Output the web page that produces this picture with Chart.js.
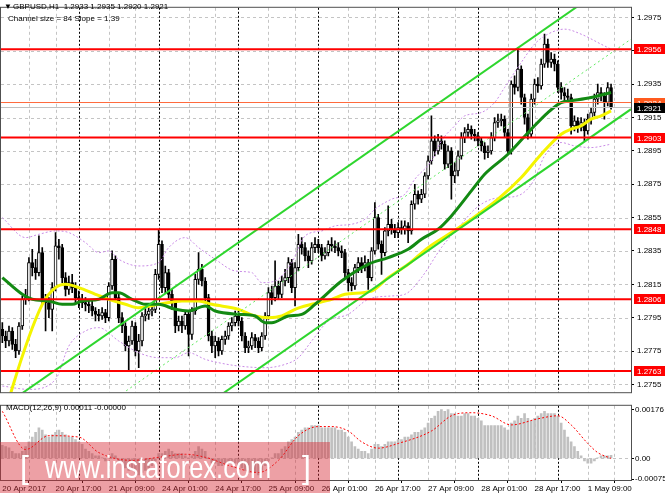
<!DOCTYPE html>
<html>
<head>
<meta charset="utf-8">
<script src="https://cdn.jsdelivr.net/npm/chart.js@4.4.1/dist/chart.umd.min.js"></script>
<style>
    body { margin: 0; background: #fff; width: 665px; height: 499px; overflow: hidden; position: relative;
           font-family: "Liberation Sans", Arial, sans-serif; }
    #pricePane { position: absolute; left: 0; top: 0; }
    #macdPane { position: absolute; left: 0; top: 400px; }
    .txt { position: absolute; font-size: 8px; line-height: 9px; color: #000; white-space: pre; }
    #band { position: absolute; left: 0; top: 442px; width: 330px; height: 51px; background: rgba(215, 45, 55, 0.45); }
    .wm { position: absolute; color: #fff; font-size: 32px; line-height: 32px; white-space: pre; top: 9px; }
</style>
</head>
<body>
<canvas id="pricePane" width="665" height="400"></canvas>
<canvas id="macdPane" width="665" height="99"></canvas>
<div class="txt" style="left:4px;top:2px">▼</div>
<div class="txt" style="left:13px;top:2px">GBPUSD,H1  1.2933 1.2935 1.2920 1.2921</div>
<div class="txt" style="left:8px;top:14px">Channel size = 84 Slope = 1.39</div>
<div class="txt" style="left:6px;top:403px">MACD(12,26,9) 0.00011 -0.00000</div>
<div id="band">
    <div class="wm" style="left:20px">[</div>
    <div class="wm" style="left:45px;transform:scaleX(0.795);transform-origin:0 0">www.instaforex.com</div>
    <div class="wm" style="left:302px">]</div>
</div>
<script>
// GBPUSD H1, one entry per bar (bar 1 = 20 Apr 01:00)
const opens = [
    1.2788,1.2784,1.2781,1.2787,1.2779,1.2775,1.2790,1.2806,1.2807,1.2828,1.2825,1.2822,
    1.2834,1.2806,1.2804,1.2800,1.2813,1.2838,1.2837,1.2819,1.2812,1.2816,1.2813,1.2807,
    1.2806,1.2804,1.2803,1.2802,1.2799,1.2797,1.2796,1.2798,1.2795,1.2814,1.2830,1.2807,
    1.2795,1.2790,1.2778,1.2781,1.2790,1.2775,1.2781,1.2796,1.2797,1.2799,1.2800,1.2821,
    1.2839,1.2813,1.2822,1.2809,1.2804,1.2790,1.2793,1.2790,1.2797,1.2785,1.2799,1.2818,
    1.2824,1.2817,1.2807,1.2784,1.2778,1.2781,1.2775,1.2782,1.2784,1.2790,1.2792,1.2796,
    1.2793,1.2784,1.2777,1.2778,1.2783,1.2781,1.2777,1.2784,1.2796,1.2810,1.2807,1.2814,
    1.2809,1.2817,1.2819,1.2828,1.2813,1.2825,1.2839,1.2837,1.2832,1.2829,1.2837,1.2839,
    1.2837,1.2832,1.2834,1.2839,1.2838,1.2837,1.2835,1.2834,1.2822,1.2816,1.2814,1.2825,
    1.2828,1.2825,1.2828,1.2819,1.2835,1.2855,1.2839,1.2834,1.2847,1.2851,1.2848,1.2846,
    1.2849,1.2848,1.2850,1.2847,1.2863,1.2869,1.2866,1.2869,1.2880,1.2889,1.2901,1.2895,
    1.2901,1.2899,1.2887,1.2895,1.2880,1.2883,1.2892,1.2903,1.2906,1.2908,1.2905,1.2904,
    1.2901,1.2898,1.2894,1.2895,1.2903,1.2912,1.2913,1.2914,1.2906,1.2895,1.2935,1.2933,
    1.2944,1.2927,1.2915,1.2905,1.2926,1.2935,1.2934,1.2947,1.2959,1.2948,1.2950,1.2947,
    1.2933,1.2930,1.2928,1.2927,1.2910,1.2913,1.2909,1.2912,1.2907,1.2914,1.2918,1.2926,
    1.2930,1.2928,1.2924,1.2933
];
const highs = [
    1.2792,1.2787,1.2790,1.2789,1.2782,1.2792,1.2808,1.2812,1.2831,1.2836,1.2830,1.2844,
    1.2837,1.2809,1.2807,1.2816,1.2846,1.2842,1.2839,1.2822,1.2820,1.2821,1.2816,1.2811,
    1.2809,1.2807,1.2806,1.2805,1.2801,1.2800,1.2801,1.2800,1.2816,1.2835,1.2832,1.2809,
    1.2798,1.2792,1.2784,1.2793,1.2792,1.2785,1.2798,1.2801,1.2802,1.2803,1.2824,1.2848,
    1.2841,1.2826,1.2824,1.2812,1.2806,1.2796,1.2796,1.2799,1.2799,1.2801,1.2821,1.2834,
    1.2827,1.2819,1.2809,1.2787,1.2784,1.2783,1.2784,1.2787,1.2792,1.2795,1.2799,1.2799,
    1.2795,1.2786,1.2781,1.2786,1.2785,1.2783,1.2786,1.2798,1.2813,1.2814,1.2829,1.2817,
    1.2820,1.2824,1.2831,1.2830,1.2828,1.2845,1.2843,1.2840,1.2835,1.2840,1.2843,1.2842,
    1.2839,1.2837,1.2841,1.2843,1.2841,1.2840,1.2838,1.2836,1.2824,1.2819,1.2827,1.2831,
    1.2831,1.2832,1.2830,1.2837,1.2864,1.2857,1.2841,1.2849,1.2862,1.2854,1.2851,1.2852,
    1.2853,1.2853,1.2852,1.2865,1.2875,1.2871,1.2872,1.2882,1.2892,1.2916,1.2904,1.2905,
    1.2904,1.2901,1.2898,1.2897,1.2888,1.2895,1.2906,1.2909,1.2911,1.2910,1.2908,1.2906,
    1.2903,1.2900,1.2898,1.2906,1.2915,1.2917,1.2917,1.2916,1.2908,1.2937,1.2940,1.2957,
    1.2946,1.2929,1.2917,1.2929,1.2938,1.2939,1.2950,1.2965,1.2962,1.2954,1.2953,1.2949,
    1.2936,1.2933,1.2932,1.2929,1.2916,1.2915,1.2915,1.2914,1.2917,1.2921,1.2929,1.2935,
    1.2933,1.2930,1.2936,1.2935
];
const lows = [
    1.2780,1.2777,1.2778,1.2776,1.2771,1.2773,1.2788,1.2803,1.2805,1.2820,1.2818,1.2820,
    1.2803,1.2787,1.2795,1.2787,1.2811,1.2830,1.2816,1.2808,1.2809,1.2810,1.2804,1.2801,
    1.2801,1.2799,1.2798,1.2796,1.2793,1.2793,1.2794,1.2792,1.2793,1.2812,1.2805,1.2792,
    1.2786,1.2775,1.2763,1.2779,1.2772,1.2765,1.2778,1.2793,1.2794,1.2796,1.2798,1.2818,
    1.2810,1.2810,1.2806,1.2800,1.2786,1.2787,1.2786,1.2788,1.2772,1.2782,1.2797,1.2815,
    1.2814,1.2804,1.2781,1.2774,1.2771,1.2772,1.2773,1.2779,1.2782,1.2787,1.2790,1.2790,
    1.2781,1.2774,1.2774,1.2776,1.2777,1.2774,1.2775,1.2782,1.2794,1.2803,1.2805,1.2806,
    1.2807,1.2814,1.2816,1.2810,1.2802,1.2823,1.2833,1.2829,1.2825,1.2827,1.2834,1.2834,
    1.2829,1.2830,1.2832,1.2835,1.2834,1.2832,1.2831,1.2819,1.2811,1.2811,1.2812,1.2822,
    1.2822,1.2823,1.2812,1.2817,1.2833,1.2836,1.2821,1.2832,1.2844,1.2845,1.2843,1.2843,
    1.2845,1.2845,1.2840,1.2845,1.2860,1.2863,1.2864,1.2867,1.2878,1.2887,1.2892,1.2893,
    1.2896,1.2884,1.2885,1.2866,1.2876,1.2880,1.2890,1.2900,1.2903,1.2902,1.2901,1.2898,
    1.2895,1.2890,1.2891,1.2893,1.2901,1.2909,1.2910,1.2903,1.2893,1.2893,1.2929,1.2931,
    1.2923,1.2911,1.2902,1.2903,1.2923,1.2930,1.2932,1.2945,1.2945,1.2945,1.2943,1.2930,
    1.2926,1.2925,1.2924,1.2905,1.2907,1.2906,1.2907,1.2901,1.2905,1.2911,1.2916,1.2923,
    1.2925,1.2914,1.2922,1.2920
];
const closes = [
    1.2784,1.2781,1.2787,1.2779,1.2775,1.2790,1.2806,1.2807,1.2828,1.2825,1.2822,1.2834,
    1.2806,1.2804,1.2800,1.2813,1.2838,1.2837,1.2819,1.2812,1.2816,1.2813,1.2807,1.2806,
    1.2804,1.2803,1.2802,1.2799,1.2797,1.2796,1.2798,1.2795,1.2814,1.2830,1.2807,1.2795,
    1.2790,1.2778,1.2781,1.2790,1.2775,1.2781,1.2796,1.2797,1.2799,1.2800,1.2821,1.2839,
    1.2813,1.2822,1.2809,1.2804,1.2790,1.2793,1.2790,1.2797,1.2785,1.2799,1.2818,1.2824,
    1.2817,1.2807,1.2784,1.2778,1.2781,1.2775,1.2782,1.2784,1.2790,1.2792,1.2796,1.2793,
    1.2784,1.2777,1.2778,1.2783,1.2781,1.2777,1.2784,1.2796,1.2810,1.2807,1.2814,1.2809,
    1.2817,1.2819,1.2828,1.2813,1.2825,1.2839,1.2837,1.2832,1.2829,1.2837,1.2839,1.2837,
    1.2832,1.2834,1.2839,1.2838,1.2837,1.2835,1.2834,1.2822,1.2816,1.2814,1.2825,1.2828,
    1.2825,1.2828,1.2819,1.2835,1.2855,1.2839,1.2834,1.2847,1.2851,1.2848,1.2846,1.2849,
    1.2848,1.2850,1.2847,1.2863,1.2869,1.2866,1.2869,1.2880,1.2889,1.2901,1.2895,1.2901,
    1.2899,1.2887,1.2895,1.2880,1.2883,1.2892,1.2903,1.2906,1.2908,1.2905,1.2904,1.2901,
    1.2898,1.2894,1.2895,1.2903,1.2912,1.2913,1.2914,1.2906,1.2895,1.2935,1.2933,1.2944,
    1.2927,1.2915,1.2905,1.2926,1.2935,1.2934,1.2947,1.2959,1.2948,1.2950,1.2947,1.2933,
    1.2930,1.2928,1.2927,1.2910,1.2913,1.2909,1.2912,1.2907,1.2914,1.2918,1.2926,1.2930,
    1.2928,1.2924,1.2933,1.2921
];

// moving averages, read at a few bars
const yellowMaBars = [2, 4, 13, 17, 20, 24, 29, 33, 38, 42, 48, 55, 60, 64, 72, 77, 81, 85, 89, 94, 100, 104,
    112, 117, 123, 129, 136, 142, 150, 157, 163, 169, 172, 175, 178, 181, 184];
const yellowMaVals = [1.2738, 1.2753, 1.2803, 1.2813, 1.2815, 1.2813, 1.2809, 1.2806, 1.2803, 1.2801, 1.2803,
    1.2805, 1.2805, 1.2803, 1.2800, 1.2796, 1.2795, 1.2796, 1.2800, 1.2803, 1.2806, 1.2809, 1.2811, 1.2819,
    1.2827, 1.2837, 1.2846, 1.2854, 1.2866, 1.2879, 1.2893, 1.2905, 1.2908, 1.2910, 1.2914, 1.2916, 1.2919];
const greenMaBars = [1, 7, 10, 15, 19, 22, 25, 30, 34, 36, 40, 44, 48, 53, 57, 62, 65, 72, 77, 80, 82, 87, 91,
    95, 103, 111, 117, 123, 127, 132, 136, 142, 146, 153, 160, 165, 169, 172, 178, 184];
const greenMaVals = [1.2819, 1.2809, 1.2806, 1.2805, 1.2803, 1.2803, 1.2805, 1.2806, 1.2810, 1.2810, 1.2806,
    1.2803, 1.2803, 1.2800, 1.2799, 1.2802, 1.2799, 1.2797, 1.2796, 1.2792, 1.2792, 1.2796, 1.2797, 1.2803,
    1.2817, 1.2827, 1.2831, 1.2836, 1.2842, 1.2848, 1.2856, 1.2871, 1.2881, 1.2893, 1.2908, 1.2918, 1.2924,
    1.2925, 1.2927, 1.2930];

// envelope bands (violet dotted)
const upperBandBars = [1, 8, 12, 17, 21, 26, 30, 33, 36, 42, 48, 51, 56, 60, 65, 71, 76, 79, 83, 88, 92, 97,
    101, 106, 110, 113, 118, 122, 125, 130, 133, 137, 140, 145, 149, 152, 157, 161, 165, 170, 175, 181, 184];
const upperBandVals = [1.2855, 1.2843, 1.2845, 1.2847, 1.2846, 1.2840, 1.2834, 1.2835, 1.2830, 1.2826, 1.2828,
    1.2837, 1.2843, 1.2837, 1.2830, 1.2823, 1.2822, 1.2816, 1.2817, 1.2828, 1.2844, 1.2847, 1.2850, 1.2851,
    1.2854, 1.2860, 1.2866, 1.2869, 1.2878, 1.2889, 1.2901, 1.2910, 1.2916, 1.2918, 1.2924, 1.2933, 1.2948,
    1.2959, 1.2965, 1.2968, 1.2965, 1.2959, 1.2956];
const lowerBandBars = [1, 9, 17, 21, 26, 30, 36, 42, 48, 53, 57, 62, 66, 72, 80, 86, 90, 94, 99, 105, 111,
    118, 122, 127, 133, 139, 143, 148, 152, 157, 161, 164, 169, 173, 178, 184];
const lowerBandVals = [1.2754, 1.2752, 1.2758, 1.2778, 1.2787, 1.2789, 1.2781, 1.2774, 1.2771, 1.2771, 1.2774,
    1.2770, 1.2768, 1.2766, 1.2765, 1.2767, 1.2771, 1.2781, 1.2793, 1.2797, 1.2806, 1.2808, 1.2809, 1.2819,
    1.2837, 1.2851, 1.2860, 1.2866, 1.2867, 1.2869, 1.2878, 1.2892, 1.2900, 1.2898, 1.2897, 1.2899];

// equidistant channel: size 84 pips, slope 1.39
const channelBars = [0, 190];
const channelUpper = [1.2740, 1.3004];
const channelMiddle = [1.2698, 1.2962];
const channelLower = [1.2656, 1.2920];

const levelPrices = [1.2956, 1.2903, 1.2848, 1.2806, 1.2763];
const askPrice = 1.2924;
const bidPrice = 1.2921;
const priceTicks = [1.2755, 1.2775, 1.2795, 1.2815, 1.2835, 1.2855, 1.2875, 1.2895, 1.2915, 1.2935, 1.2955, 1.2975];

// MACD(12,26,9)
const macdMain = [
    0.00047,0.00043,0.00038,0.00026,0.00017,0.00017,0.00026,0.00043,0.0006,0.00077,0.00094,0.0011,
    0.00102,0.00085,0.00077,0.00085,0.00094,0.00102,0.00094,0.00085,0.00077,0.00077,0.00068,0.0006,
    0.00051,0.00034,0.00026,0.00017,0.00009,0.00009,0.00002,-0.00009,0.00009,0.00017,0.00009,-0.00009,
    -0.00017,-0.00034,-0.00043,-0.00043,-0.00051,-0.0006,-0.00051,-0.00043,-0.00034,-0.00026,-0.00009,0.00017,
    0.00017,0.00026,0.00034,0.00026,0.00017,0.00017,0.00017,0.00009,0.00002,0.00009,0.00026,0.00043,
    0.00034,0.00026,0.00002,-0.00017,-0.00017,-0.00026,-0.00026,-0.00017,-0.00017,-0.00017,-0.00017,-0.00026,
    -0.00034,-0.00043,-0.00051,-0.00051,-0.00051,-0.0006,-0.00043,-0.00026,-0.00009,0.00002,0.00017,0.00017,
    0.00034,0.00043,0.0006,0.00068,0.00077,0.00094,0.00102,0.0011,0.0011,0.00119,0.00119,0.00119,
    0.0011,0.0011,0.0011,0.0011,0.0011,0.00102,0.00102,0.00094,0.00077,0.0006,0.00043,0.00034,
    0.00026,0.00026,0.00017,0.00034,0.00051,0.00051,0.00043,0.00051,0.0006,0.0006,0.0006,0.00068,
    0.00068,0.00077,0.00077,0.00085,0.00094,0.00094,0.00102,0.0011,0.00128,0.00145,0.00153,0.0017,
    0.00176,0.0017,0.00176,0.00162,0.00162,0.00153,0.00153,0.00162,0.00162,0.00153,0.00153,0.00145,
    0.00136,0.00119,0.00119,0.00119,0.00119,0.00119,0.00119,0.0011,0.00102,0.00128,0.00136,0.00153,
    0.00145,0.00162,0.00145,0.00136,0.00145,0.00153,0.00162,0.0017,0.00162,0.00162,0.00162,0.00153,
    0.00128,0.00102,0.00077,0.0006,0.00043,0.00026,0.00009,-0.00009,-0.00017,-0.00017,-0.00009,0.00002,
    0.00009,0.00009,0.00009,0.00011
];
const signalBars = [1, 8, 15, 24, 30, 40, 48, 56, 62, 70, 78, 84, 90, 96, 100, 105, 109, 114, 120, 130, 136,
    142, 148, 154, 162, 168, 172, 177, 180, 184];
const signalVals = [0.0017, 0.00032, 0.00082, 0.00077, 0.00021, -0.00007, 0.00004, 0.00015, 0.00004, -0.00029,
    -0.00051, -0.00007, 0.00082, 0.00115, 0.00115, 0.00099, 0.0006, 0.00037, 0.00054, 0.00099, 0.00154, 0.00165,
    0.00154, 0.00121, 0.00143, 0.00154, 0.00121, 0.00054, 0.00021, 0.0];
const macdTicks = [-0.00075, 0, 0.00176];

const timeLabelBars = [1, 17, 33, 49, 65, 81, 97, 113, 129, 145, 161, 177];
const timeLabels = ['20 Apr 2017', '20 Apr 17:00', '21 Apr 09:00', '24 Apr 01:00', '24 Apr 17:00', '25 Apr 09:00',
    '26 Apr 01:00', '26 Apr 17:00', '27 Apr 09:00', '28 Apr 01:00', '28 Apr 17:00', '1 May 09:00'];
const gridBars = [9, 17, 33, 41, 57, 65, 81, 89, 105, 113, 129, 137, 153, 161, 177, 185];
const daySeparators = [24, 48, 72, 96, 120, 144, 168];

const FONT = '"Liberation Sans", Arial, sans-serif';
Chart.defaults.font.family = FONT;
Chart.defaults.font.size = 8;
Chart.defaults.color = '#000';

function pairs(xs, ys) {
    return xs.map((x, k) => ({ x: x, y: ys[k] }));
}

const paneDecor = {
    id: 'paneDecor',
    beforeDatasetsDraw(chart, args, opts) {
        const { ctx, chartArea: a, scales: { x, y } } = chart;
        ctx.save();
        ctx.lineWidth = 1;
        ctx.strokeStyle = '#c4c4c4';
        ctx.setLineDash([3, 3]);
        opts.hLines.forEach(v => {
            const py = Math.round(y.getPixelForValue(v)) + 0.5;
            ctx.beginPath(); ctx.moveTo(a.left, py); ctx.lineTo(a.right, py); ctx.stroke();
        });
        gridBars.forEach(b => {
            const px = Math.round(x.getPixelForValue(b)) + 0.5;
            ctx.beginPath(); ctx.moveTo(px, a.top); ctx.lineTo(px, a.bottom); ctx.stroke();
        });
        ctx.strokeStyle = '#000';
        ctx.setLineDash([2, 2]);
        daySeparators.forEach(b => {
            const px = Math.round(x.getPixelForValue(b)) + 0.5;
            ctx.beginPath(); ctx.moveTo(px, a.top); ctx.lineTo(px, a.bottom); ctx.stroke();
        });
        ctx.restore();
    },
    afterDraw(chart, args, opts) {
        const { ctx, chartArea: a, scales: { y } } = chart;
        ctx.save();
        ctx.strokeStyle = '#505050';
        ctx.lineWidth = 1;
        ctx.strokeRect(a.left - 0.5, a.top - 0.5, a.right - a.left + 1, a.bottom - a.top + 1);
        ctx.font = '8px ' + FONT;
        ctx.textBaseline = 'middle';
        (opts.tags || []).forEach(t => {
            const py = Math.round(y.getPixelForValue(t.value));
            ctx.fillStyle = t.color;
            ctx.fillRect(a.right + 3, py - 5, chart.width - a.right - 3, 10);
            ctx.fillStyle = '#fff';
            ctx.fillText(t.value.toFixed(4), a.right + 6, py + 0.5);
        });
        ctx.restore();
    }
};

const xRange = { type: 'linear', min: 0.6, max: 190, offset: false };

const levelSets = levelPrices.map(p => ({
    type: 'line', data: pairs(channelBars, [p, p]), borderColor: '#ff0000', borderWidth: 2,
    pointRadius: 0, order: 2, clip: 0
}));

new Chart(document.getElementById('pricePane'), {
    type: 'bar',
    data: {
        datasets: [
            ...levelSets,
            { type: 'line', data: pairs(channelBars, [askPrice, askPrice]), borderColor: '#ff6a3c', borderWidth: 1, pointRadius: 0, order: 3, clip: 0 },
            { type: 'line', data: pairs(channelBars, [bidPrice, bidPrice]), borderColor: '#c0c0c0', borderWidth: 1, pointRadius: 0, order: 3, clip: 0 },
            { type: 'line', data: pairs(channelBars, channelUpper), borderColor: '#2ed62e', borderWidth: 2, pointRadius: 0, order: 4, clip: 0 },
            { type: 'line', data: pairs(channelBars, channelLower), borderColor: '#2ed62e', borderWidth: 2, pointRadius: 0, order: 4, clip: 0 },
            { type: 'line', data: pairs(channelBars, channelMiddle), borderColor: '#5ee85e', borderWidth: 1, borderDash: [2, 3], pointRadius: 0, order: 4, clip: 0 },
            { type: 'line', data: pairs(greenMaBars, greenMaVals), borderColor: '#138a13', borderWidth: 3, pointRadius: 0, cubicInterpolationMode: 'monotone', order: 5, clip: 0 },
            { type: 'line', data: pairs(yellowMaBars, yellowMaVals), borderColor: '#f4f400', borderWidth: 3, pointRadius: 0, cubicInterpolationMode: 'monotone', order: 6, clip: 0 },
            { type: 'line', data: pairs(upperBandBars, upperBandVals), borderColor: '#c98be6', borderWidth: 1, borderDash: [2, 2], pointRadius: 0, cubicInterpolationMode: 'monotone', order: 7, clip: 0 },
            { type: 'line', data: pairs(lowerBandBars, lowerBandVals), borderColor: '#c98be6', borderWidth: 1, borderDash: [2, 2], pointRadius: 0, cubicInterpolationMode: 'monotone', order: 7, clip: 0 },
            {
                type: 'bar', order: 8, grouped: false, barThickness: 3,
                data: opens.map((o, k) => ({ x: k + 1, y: [o, closes[k]] })),
                backgroundColor: opens.map((o, k) => closes[k] >= o ? '#ffffff' : '#000000'),
                borderColor: '#000', borderWidth: 1, borderSkipped: false
            },
            {
                type: 'bar', order: 9, grouped: false, barThickness: 1,
                data: highs.map((h, k) => ({ x: k + 1, y: [lows[k], h] })),
                backgroundColor: '#000'
            }
        ]
    },
    options: {
        responsive: false,
        devicePixelRatio: 1,
        animation: false,
        layout: { padding: { left: 1, top: 3, right: 0, bottom: 2 } },
        plugins: {
            legend: { display: false },
            tooltip: { enabled: false },
            paneDecor: {
                hLines: priceTicks,
                tags: [
                    ...levelPrices.map(p => ({ value: p, color: '#ff0000' })),
                    { value: askPrice, color: '#ff5a1e' },
                    { value: bidPrice, color: '#000000' }
                ]
            }
        },
        scales: {
            x: { ...xRange, display: false },
            y: {
                position: 'right', min: 1.27503, max: 1.29808,
                afterBuildTicks: s => { s.ticks = priceTicks.map(v => ({ value: v })); },
                afterFit: s => { s.width = 34; },
                ticks: { padding: 3, autoSkip: false, callback: v => Number(v).toFixed(4) },
                grid: { drawOnChartArea: false, drawTicks: true, tickLength: 3, color: '#000' },
                border: { display: false }
            }
        }
    },
    plugins: [paneDecor]
});

new Chart(document.getElementById('macdPane'), {
    type: 'bar',
    data: {
        datasets: [
            {
                type: 'line', data: pairs(signalBars, signalVals), borderColor: '#ff0000', borderWidth: 1,
                borderDash: [2, 2], pointRadius: 0, cubicInterpolationMode: 'monotone', order: 1, clip: 0
            },
            {
                type: 'bar', order: 2, grouped: false, barThickness: 2,
                data: macdMain.map((v, k) => ({ x: k + 1, y: v })),
                backgroundColor: '#c0c0c0'
            }
        ]
    },
    options: {
        responsive: false,
        devicePixelRatio: 1,
        animation: false,
        layout: { padding: { left: 1, top: 1, right: 0, bottom: 0 } },
        plugins: {
            legend: { display: false },
            tooltip: { enabled: false },
            paneDecor: { hLines: [0] }
        },
        scales: {
            x: {
                ...xRange, position: 'bottom',
                afterBuildTicks: s => { s.ticks = timeLabelBars.map(v => ({ value: v })); },
                afterFit: s => { s.height = 19; },
                ticks: {
                    align: 'start', maxRotation: 0, autoSkip: false, padding: 1,
                    callback: v => timeLabels[timeLabelBars.indexOf(v)]
                },
                grid: { drawOnChartArea: false, drawTicks: true, tickLength: 3, color: '#000' },
                border: { display: false }
            },
            y: {
                position: 'right', min: -0.00078, max: 0.0019,
                afterBuildTicks: s => { s.ticks = macdTicks.map(v => ({ value: v })); },
                afterFit: s => { s.width = 34; },
                ticks: { padding: 1, autoSkip: false, callback: v => v === 0 ? '0.00' : Number(v).toFixed(5) },
                grid: { drawOnChartArea: false, drawTicks: true, tickLength: 3, color: '#000' },
                border: { display: false }
            }
        }
    },
    plugins: [paneDecor]
});
</script>
</body>
</html>
